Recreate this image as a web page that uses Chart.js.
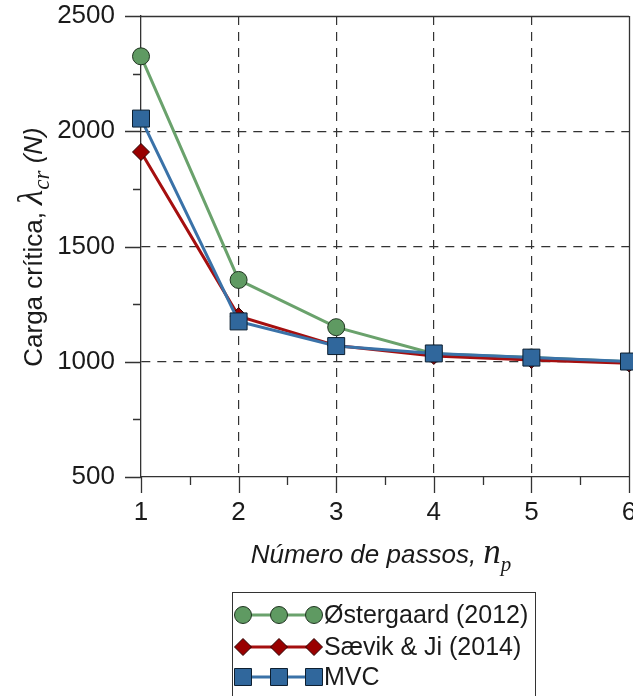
<!DOCTYPE html>
<html>
<head>
<meta charset="utf-8">
<script src="https://cdn.jsdelivr.net/npm/chart.js@4/dist/chart.umd.min.js"></script>
<style>
  html, body { margin: 0; padding: 0; background: #fff; overflow: hidden; }
  #wrap { width: 680px; height: 696px; }
</style>
</head>
<body>
<div id="wrap"><canvas id="cargaChart" width="680" height="696"></canvas></div>
<script>
// valores
const passos = [1, 2, 3, 4, 5, 6];
const ostergaard = [2325, 1355, 1150, 1035, 1018, 1000];
const saevik = [1910, 1198, 1070, 1025, 1008, 993];
const mvc = [2055, 1175, 1068, 1036, 1018, 1001];
const yTicks = [500, 1000, 1500, 2000, 2500];
const xTicks = [1, 2, 3, 4, 5, 6];

const FONT = "'Liberation Sans', Arial, sans-serif";
const SERIF = "'Liberation Serif', 'Times New Roman', serif";
const INK = '#1a1a1a';

function toPoints(vals) {
    return passos.map((p, i) => ({ x: p, y: vals[i] }));
}

// ticks maiores / menores e moldura superior / direita
const frameTicks = {
    id: 'frameTicks',
    beforeDatasetsDraw(chart) {
        const { ctx, chartArea: a, scales: { x, y } } = chart;
        ctx.save();
        ctx.strokeStyle = '#333';
        ctx.lineWidth = 1.3;
        ctx.beginPath();
        for (let v = yTicks[0]; v <= yTicks[yTicks.length - 1]; v += 250) {
            const py = Math.round(y.getPixelForValue(v)) + 0.5;
            const len = v % 500 === 0 ? 16 : 8;
            ctx.moveTo(a.left - len, py);
            ctx.lineTo(a.left, py);
        }
        for (let v = xTicks[0]; v <= xTicks[xTicks.length - 1]; v += 0.5) {
            const px = Math.round(x.getPixelForValue(v)) + 0.5;
            const len = Number.isInteger(v) ? 16 : 8;
            ctx.moveTo(px, a.bottom);
            ctx.lineTo(px, a.bottom + len);
        }
        ctx.moveTo(a.left, Math.round(a.top) + 0.5);
        ctx.lineTo(a.right, Math.round(a.top) + 0.5);
        ctx.moveTo(Math.round(a.right) + 0.5, a.top);
        ctx.lineTo(Math.round(a.right) + 0.5, a.bottom);
        ctx.stroke();
        ctx.restore();
    }
};

function drawMarker(ctx, style, r, cx, cy) {
    ctx.beginPath();
    if (style === 'circle') {
        ctx.arc(cx, cy, r, 0, Math.PI * 2);
    } else if (style === 'rect') {
        const s = r * Math.SQRT1_2;
        ctx.rect(cx - s, cy - s, 2 * s, 2 * s);
    } else {
        ctx.moveTo(cx - r, cy);
        ctx.lineTo(cx, cy - r);
        ctx.lineTo(cx + r, cy);
        ctx.lineTo(cx, cy + r);
        ctx.closePath();
    }
    ctx.fill();
    ctx.stroke();
}

// titulos dos eixos e legenda
const titlesLegend = {
    id: 'titlesLegend',
    afterDraw(chart) {
        const { ctx, chartArea: a } = chart;
        ctx.save();
        ctx.fillStyle = INK;
        ctx.textBaseline = 'alphabetic';
        ctx.textAlign = 'left';

        // eixo x
        const parts = [
            { t: 'Número de passos, ', f: 'italic 26px ' + FONT, dy: 0 },
            { t: 'n', f: 'italic 35px ' + SERIF, dy: 0 },
            { t: 'p', f: 'italic 21px ' + SERIF, dy: 8 }
        ];
        let total = 0;
        parts.forEach(p => { ctx.font = p.f; p.w = ctx.measureText(p.t).width; total += p.w; });
        let cx = (a.left + a.right) / 2 - total / 2 - 4;
        const baseX = 563;
        parts.forEach(p => { ctx.font = p.f; ctx.fillText(p.t, cx, baseX + p.dy); cx += p.w; });

        // eixo y
        const yparts = [
            { t: 'Carga crítica, ', f: '26px ' + FONT, dy: 0 },
            { t: 'λ', f: 'italic 35px ' + SERIF, dy: 0 },
            { t: 'cr', f: 'italic 23px ' + SERIF, dy: 7 },
            { t: ' (N)', f: 'italic 26px ' + FONT, dy: 0 }
        ];
        let ytotal = 0;
        yparts.forEach(p => { ctx.font = p.f; p.w = ctx.measureText(p.t).width; ytotal += p.w; });
        ctx.translate(42, 247);
        ctx.rotate(-Math.PI / 2);
        let ly = -ytotal / 2;
        yparts.forEach(p => { ctx.font = p.f; ctx.fillText(p.t, ly, p.dy); ly += p.w; });
        ctx.setTransform(1, 0, 0, 1, 0, 0);

        // legenda
        ctx.strokeStyle = '#333';
        ctx.lineWidth = 1;
        ctx.strokeRect(232.5, 592.5, 303, 140);
        const rows = [615, 647, 677];
        chart.data.datasets.forEach((ds, i) => {
            const ry = rows[i];
            ctx.strokeStyle = ds.borderColor;
            ctx.lineWidth = 3;
            ctx.beginPath();
            ctx.moveTo(243, ry);
            ctx.lineTo(314, ry);
            ctx.stroke();
            ctx.fillStyle = ds.pointBackgroundColor;
            ctx.strokeStyle = ds.pointBorderColor;
            ctx.lineWidth = 1;
            [243, 279, 314].forEach(mx => drawMarker(ctx, ds.pointStyle, ds.pointRadius, mx, ry));
            ctx.fillStyle = INK;
            ctx.font = '25px ' + FONT;
            ctx.textBaseline = 'middle';
            ctx.fillText(ds.label, 324, ry + 1);
        });
        ctx.restore();
    }
};

const gridColor = (edges) => (c) => (edges.includes(c.tick && c.tick.value) ? 'rgba(0,0,0,0)' : '#333');

new Chart(document.getElementById('cargaChart'), {
    type: 'line',
    data: {
        datasets: [
            {
                label: 'Østergaard (2012)',
                data: toPoints(ostergaard),
                borderColor: '#6aa26c',
                pointBackgroundColor: '#5f9a62',
                pointBorderColor: '#1f3320',
                pointStyle: 'circle',
                pointRadius: 8.5,
                order: 3
            },
            {
                label: 'Sævik & Ji (2014)',
                data: toPoints(saevik),
                borderColor: '#a50f0f',
                pointBackgroundColor: '#990000',
                pointBorderColor: '#2a0000',
                pointStyle: 'rectRot',
                pointRadius: 8.5,
                order: 2
            },
            {
                label: 'MVC',
                data: toPoints(mvc),
                borderColor: '#3a72a8',
                pointBackgroundColor: '#30679c',
                pointBorderColor: '#0d1f30',
                pointStyle: 'rect',
                pointRadius: 12,
                order: 1
            }
        ].map(ds => Object.assign(ds, {
            borderWidth: 3,
            pointBorderWidth: 1,
            pointHoverRadius: ds.pointRadius,
            tension: 0,
            clip: false
        }))
    },
    options: {
        responsive: false,
        animation: false,
        layout: { padding: { top: 16, right: 51, left: 0, bottom: 0 } },
        plugins: { legend: { display: false }, tooltip: { enabled: false } },
        scales: {
            x: {
                type: 'linear',
                min: 1,
                max: 6,
                afterFit: s => { s.height = 219; s.paddingLeft = 0; s.paddingRight = 0; },
                afterBuildTicks: s => { s.ticks = xTicks.map(v => ({ value: v })); },
                ticks: { color: INK, font: { family: FONT, size: 26 }, padding: 20, maxRotation: 0, callback: v => String(v) },
                grid: { drawTicks: false, color: gridColor([1, 6]), lineWidth: 1.2 },
                border: { display: true, color: '#333', width: 1.3, dash: [9, 7] }
            },
            y: {
                min: 500,
                max: 2500,
                afterFit: s => { s.width = 141; s.paddingTop = 0; s.paddingBottom = 0; },
                afterBuildTicks: s => { s.ticks = yTicks.map(v => ({ value: v })); },
                ticks: { color: INK, font: { family: FONT, size: 26 }, padding: 26, callback: v => String(v) },
                grid: { drawTicks: false, color: gridColor([500, 2500]), lineWidth: 1.2 },
                border: { display: true, color: '#333', width: 1.3, dash: [9, 7] }
            }
        }
    },
    plugins: [frameTicks, titlesLegend]
});
</script>
</body>
</html>
